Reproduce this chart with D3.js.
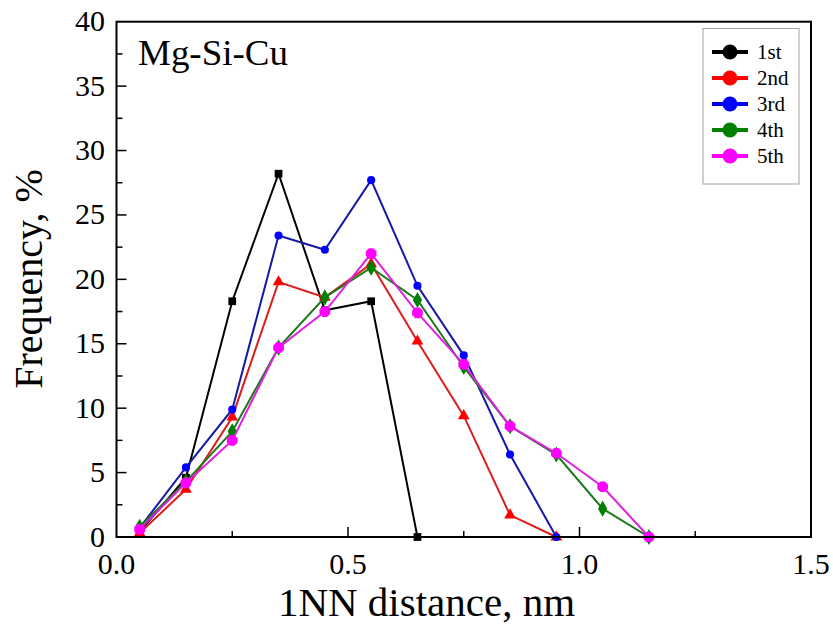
<!DOCTYPE html>
<html><head><meta charset="utf-8">
<script src="https://cdn.jsdelivr.net/npm/d3@7"></script>
<style>body{margin:0;background:#fff}svg{display:block}text{font-family:"Liberation Serif","Times New Roman",serif;fill:#000}</style>
</head><body><svg id="c" width="833" height="625"></svg>
<script>
const xValues = [0.05,0.15,0.25,0.35,0.45,0.55,0.65,0.75,0.85,0.95,1.05,1.15];
const s1 = [0.4,4.6,18.3,28.2,17.6,18.3,0];
const s2 = [0.3,3.7,9.3,19.8,18.6,21.2,15.2,9.4,1.7,0];
const s3 = [0.7,5.4,9.9,23.4,22.3,27.7,19.5,14.1,6.4,0];
const s4 = [0.8,4.3,8.2,14.7,18.6,20.9,18.4,13.2,8.6,6.4,2.2,0];
const s5 = [0.6,4.2,7.5,14.7,17.5,22.0,17.4,13.4,8.6,6.5,3.9,0];
const seriesNames = ["1st","2nd","3rd","4th","5th"];
const xTicks = [0.0,0.5,1.0,1.5];
const yTicks = [0,5,10,15,20,25,30,35,40];

const series = [
  {name:seriesNames[0], vals:s1, line:"#000000", fill:"#000000", shape:"square"},
  {name:seriesNames[1], vals:s2, line:"#dd1c1c", fill:"#ff0000", shape:"triangle"},
  {name:seriesNames[2], vals:s3, line:"#1818a8", fill:"#0000ff", shape:"circle"},
  {name:seriesNames[3], vals:s4, line:"#1a7a1a", fill:"#008000", shape:"diamond"},
  {name:seriesNames[4], vals:s5, line:"#e020e0", fill:"#ff00ff", shape:"hexagon"}
];

const svg = d3.select("#c");
const L=116.5, R=811, T=21.7, B=537;
const x = d3.scaleLinear().domain([0,1.5]).range([L,R]);
const y = d3.scaleLinear().domain([0,40]).range([B,T]);

const xMinor = d3.range(0.25,1.5,0.5);
const yMinor = d3.range(2.5,40,5);
const g = svg.append("g");
g.selectAll(".xmaj").data(xTicks.slice(1,-1)).join("line").attr("class","xmaj")
  .attr("x1",d=>x(d)).attr("x2",d=>x(d)).attr("y1",B).attr("y2",B-10)
  .attr("stroke","#000").attr("stroke-width",1.5);
g.selectAll(".xmin").data(xMinor).join("line").attr("class","xmin")
  .attr("x1",d=>x(d)).attr("x2",d=>x(d)).attr("y1",B).attr("y2",B-6)
  .attr("stroke","#000").attr("stroke-width",1.5);
g.selectAll(".ymaj").data(yTicks.slice(1,-1)).join("line").attr("class","ymaj")
  .attr("y1",d=>y(d)).attr("y2",d=>y(d)).attr("x1",L).attr("x2",L+10)
  .attr("stroke","#000").attr("stroke-width",1.5);
g.selectAll(".ymin").data(yMinor).join("line").attr("class","ymin")
  .attr("y1",d=>y(d)).attr("y2",d=>y(d)).attr("x1",L).attr("x2",L+6)
  .attr("stroke","#000").attr("stroke-width",1.5);

g.selectAll(".xl").data(xTicks).join("text").attr("class","xl")
  .attr("x",d=>x(d)).attr("y",574).attr("text-anchor","middle")
  .attr("font-size",30).text(d=>d3.format(".1f")(d));
g.selectAll(".yl").data(yTicks).join("text").attr("class","yl")
  .attr("x",105).attr("y",d=>y(d)+9.5).attr("text-anchor","end")
  .attr("font-size",30).text(d=>d);

svg.append("text").attr("x",426.5).attr("y",616).attr("text-anchor","middle")
  .attr("font-size",41).text("1NN distance, nm");
svg.append("text").attr("transform","translate(42,279) rotate(-90)")
  .attr("text-anchor","middle").attr("font-size",40).text("Frequency, %");

const lineGen = d3.line().x(d=>x(d[0])).y(d=>y(d[1]));
const sym = {
  square: d3.symbol().type(d3.symbolSquare).size(60),
  triangle: d3.symbol().type(d3.symbolTriangle).size(60),
  circle: d3.symbol().type(d3.symbolCircle).size(52),
  diamond: d3.symbol().type(d3.symbolDiamond).size(75)
};
function hexPath(r){
  const pts=d3.range(8).map(i=>{const a=Math.PI/8+i*Math.PI/4;return [r*Math.cos(a),r*Math.sin(a)];});
  return "M"+pts.map(p=>p.join(",")).join("L")+"Z";
}

series.forEach(s=>{
  const pts = s.vals.map((v,i)=>[xValues[i],v]);
  const sg = svg.append("g");
  sg.append("path").datum(pts).attr("d",lineGen).attr("fill","none")
    .attr("stroke",s.line).attr("stroke-width",2);
  sg.selectAll("path.m").data(pts).join("path").attr("class","m")
    .attr("transform",d=>`translate(${x(d[0])},${y(d[1])})`)
    .attr("d",s.shape==="hexagon"?hexPath(5.8):sym[s.shape]())
    .attr("fill",s.fill);
});

svg.append("rect").attr("x",L).attr("y",T).attr("width",R-L).attr("height",B-T)
  .attr("fill","none").attr("stroke","#000").attr("stroke-width",2);

svg.append("text").attr("x",138).attr("y",65).attr("font-size",35)
  .attr("textLength",150).attr("lengthAdjust","spacingAndGlyphs").text("Mg-Si-Cu");

const lg = svg.append("g");
lg.append("rect").attr("x",703).attr("y",28.5).attr("width",96).attr("height",155.5)
  .attr("fill","#fff").attr("stroke","#a0a0a0").attr("stroke-width",1);
series.forEach((s,i)=>{
  const yy = 52+i*26;
  lg.append("line").attr("x1",712).attr("x2",748).attr("y1",yy).attr("y2",yy)
    .attr("stroke",s.fill).attr("stroke-width",4);
  lg.append("circle").attr("cx",730).attr("cy",yy).attr("r",7.5).attr("fill",s.fill);
  lg.append("text").attr("x",757).attr("y",yy+7).attr("font-size",21).text(s.name);
});
</script></body></html>
